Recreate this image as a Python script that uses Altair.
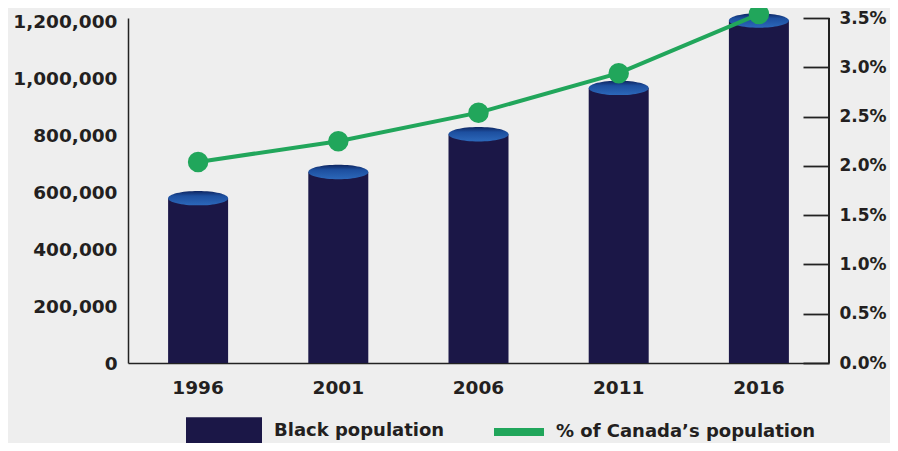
import altair as alt
import pandas as pd

years = ["1996", "2001", "2006", "2011", "2016"]
black_pop = [580000, 672000, 805000, 968000, 1205000]
pct_canada = [2.04, 2.25, 2.54, 2.94, 3.54]
left_ticks = [0, 200000, 400000, 600000, 800000, 1000000, 1200000]
right_ticks = [0.0, 0.5, 1.0, 1.5, 2.0, 2.5, 3.0, 3.5]
bar_label = "Black population"
line_label = "% of Canada\u2019s population"

df = pd.DataFrame({
    "year": years,
    "pop": black_pop,
    "pct": pct_canada,
    "s1": [bar_label] * len(years),
    "s2": [line_label] * len(years),
})

W, H = 701, 345
FONT = "DejaVu Sans"
TXT = "#231f20"
NAVY = "#1b1747"
GREEN = "#21a65b"

x_axis = alt.Axis(labelAngle=0, ticks=False, domain=True, domainColor="#222",
                  domainWidth=1.5, labelPadding=15, labelFont=FONT,
                  labelFontWeight="bold", labelFontSize=18.5, labelColor=TXT)
x_scale = alt.Scale(paddingInner=0, paddingOuter=0)

def x_enc():
    return alt.X("year:N", sort=years, title=None, scale=x_scale, axis=x_axis)

y_left_scale = alt.Scale(domain=[0, 1214000], nice=False, zero=True)
y_left_axis = alt.Axis(values=left_ticks, labelExpr="format(datum.value, ',')",
                       grid=False, ticks=False,
                       domain=True, domainColor="#222", domainWidth=1.5, labelPadding=11,
                       labelFont=FONT, labelFontWeight="bold", labelFontSize=18.5,
                       labelColor=TXT)

bars = alt.Chart(df).mark_bar(size=60).encode(
    x=x_enc(),
    y=alt.Y("pop:Q", title=None, scale=y_left_scale, axis=y_left_axis),
    fill=alt.Fill("s1:N", title=None,
                  scale=alt.Scale(domain=[bar_label], range=[NAVY]),
                  legend=alt.Legend(orient="none", legendX=58, legendY=375, padding=0,
                                    symbolType="M-1,-0.36L1,-0.36L1,0.36L-1,0.36Z",
                                    symbolSize=5776, symbolStrokeWidth=0,
                                    labelOffset=12, labelFont=FONT, labelFontWeight="bold",
                                    labelFontSize=18, labelColor=TXT, labelLimit=400)),
)

top_fill = alt.LinearGradient(
    gradient="linear", x1=0.5, y1=0, x2=0.5, y2=1,
    stops=[alt.GradientStop(offset=0, color="#0e2560"),
           alt.GradientStop(offset=0.35, color="#1d4f9f"),
           alt.GradientStop(offset=1, color="#2c68ba")])

tops = alt.Chart(df).mark_point(
    shape="M-1,0A1,0.24 0 1,1 1,0A1,0.24 0 1,1 -1,0Z",
    size=3600, filled=True, fill=top_fill, opacity=1, strokeWidth=0,
).encode(
    x=x_enc(),
    y=alt.Y("pop:Q", title=None, scale=y_left_scale, axis=y_left_axis),
)

left = alt.layer(bars, tops)

y_right_scale = alt.Scale(domain=[0, 3.5], nice=False, zero=True)
y_right_axis = alt.Axis(orient="right", values=right_ticks, grid=False,
                        labelExpr="format(datum.value, '.1f') + '%'",
                        ticks=True, tickSize=26, tickWidth=1.8, tickColor="#222",
                        domain=False, offset=-26, labelPadding=10,
                        labelFont=FONT, labelFontWeight="bold", labelFontSize=17,
                        labelColor=TXT)

line = alt.Chart(df).mark_line(strokeWidth=4).encode(
    x=x_enc(),
    y=alt.Y("pct:Q", title=None, scale=y_right_scale, axis=y_right_axis),
    stroke=alt.Stroke("s2:N", title=None,
                      scale=alt.Scale(domain=[line_label], range=[GREEN]),
                      legend=alt.Legend(orient="none", legendX=362, legendY=385, padding=0,
                                        symbolType="stroke", symbolSize=2500,
                                        symbolStrokeWidth=8, labelOffset=8,
                                        labelFont=FONT, labelFontWeight="bold",
                                        labelFontSize=18, labelColor=TXT, labelLimit=400)),
)

points = alt.Chart(df).mark_point(filled=True, size=420, color=GREEN, opacity=1).encode(
    x=x_enc(),
    y=alt.Y("pct:Q", title=None, scale=y_right_scale, axis=y_right_axis),
)

right_line = alt.Chart(df).mark_rule(color="#222", strokeWidth=1.8).encode(
    x=alt.value(W), y=alt.value(0), y2=alt.value(H)
)

right = alt.layer(line, points, right_line)

chart = alt.layer(left, right).resolve_scale(y="independent").properties(
    width=W, height=H,
    background="#eeeeee",
    autosize=alt.AutoSizeParams(type="none"),
    padding={"left": 120, "top": 10, "right": 61, "bottom": 80},
).configure_view(stroke=None)

chart.save("out.html", embed_options={"renderer": "svg", "actions": False})
